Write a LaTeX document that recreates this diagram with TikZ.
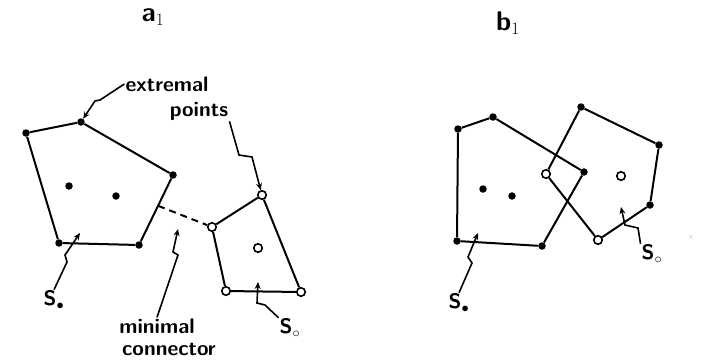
\documentclass[tikz,border=0pt]{standalone}
\usetikzlibrary{arrows.meta,calc}
\tikzset{
	edge/.style={line width=2pt},
	fdot/.style={circle,fill,inner sep=0pt,minimum size=7.5pt},
	odot/.style={circle,draw,fill=white,line width=1.6pt,inner sep=0pt,minimum size=8.5pt},
	hand/.style={font=\sffamily\bfseries\fontsize{21}{23}\selectfont,inner sep=1pt},
	title/.style={font=\sffamily\bfseries\fontsize{27}{29}\selectfont,inner sep=1pt},
	zz/.style={line width=1.6pt,-{Stealth[length=7pt,width=6pt]}},
}
\begin{document}
\begin{tikzpicture}[x=1pt,y=-1pt]
		\useasboundingbox (0,0) rectangle (708,362);
		
		% Titles
		\node[title] (ta) at (153,17) {a$_1$};
		\node[title] (tb) at (508,23) {b$_1$};
		
		% Panel a: filled set
		\node[fdot] (a1) at (26,133) {};
		\node[fdot] (a2) at (81,122) {};
		\node[fdot] (a3) at (173,175) {};
		\node[fdot] (a4) at (139,245) {};
		\node[fdot] (a5) at (59,243) {};
		\node[fdot] (a6) at (69,186) {};
		\node[fdot] (a7) at (116,196) {};
		\draw[edge] (a1) -- (a2) -- (a3) -- (a4) -- (a5) -- (a1);
		
		% Panel a: open set
		\node[odot] (c1) at (262,195) {};
		\node[odot] (c2) at (212,227) {};
		\node[odot] (c3) at (226,291) {};
		\node[odot] (c4) at (301,292) {};
		\node[odot] (c5) at (258,248) {};
		\draw[edge] (c1) -- (c2) -- (c3) -- (c4) -- (c1);
		
		% Minimal connector
		\coordinate (m) at ($(a3)!0.44!(a4)$);
		\draw[edge, dash pattern=on 7pt off 5pt] (m) -- (c2);
		
		% Panel a: labels
		\node[hand] (ext) at (167,84) {extremal};
		\node[hand] (pts) at (199,111) {points};
		\node[hand] (mn) at (157,326) {minimal};
		\node[hand] (cn) at (169,349) {connector};
		\node[hand] (sa) at (54,300) {S$_\bullet$};
		\node[hand] (sb) at (290,328) {S$_\circ$};
		
		% Panel a: arrows
		\draw[zz] (ext.west) -- (100,100) -- (95,101) -- (a2);
		\draw[zz] (pts.south east) -- (239,155) -- (252,157) -- (c1);
		\draw[zz] (mn.north) -- (178,255) -- (173,252) -- (178,229);
		\draw[zz] (sa.north) -- (67,262) -- (65,255) -- (80,233);
		\draw[zz] (sb.north west) -- (265,305) -- (257,303) -- (258,282);
		
		% Panel b: filled set
		\node[fdot] (b1) at (458,129) {};
		\node[fdot] (b2) at (493,117) {};
		\node[fdot] (b3) at (584,172) {};
		\node[fdot] (b4) at (542,246) {};
		\node[fdot] (b5) at (457,241) {};
		\node[fdot] (b6) at (483,189) {};
		\node[fdot] (b7) at (512,196) {};
		\draw[edge] (b1) -- (b2) -- (b3) -- (b4) -- (b5) -- (b1);
		
		% Panel b: second set
		\node[fdot] (d1) at (581,107) {};
		\node[fdot] (d2) at (659,145) {};
		\node[fdot] (d3) at (650,205) {};
		\node[odot] (d4) at (598,240) {};
		\node[odot] (d5) at (546,174) {};
		\node[odot] (d6) at (621,176) {};
		\draw[edge] (d1) -- (d2) -- (d3) -- (d4) -- (d5) -- (d1);
		
		% Panel b: labels and arrows
		\node[hand] (sc) at (459,303) {S$_\bullet$};
		\node[hand] (sd) at (652,254) {S$_\circ$};
		\draw[zz] (sc.north) -- (472,263) -- (468,257) -- (478,233);
		\draw[zz] (sd.north west) -- (638,228) -- (625,225) -- (621,207);
		\node[text=gray!50,font=\small] (xm) at (691,237) {$\times$};
	\end{tikzpicture}
\end{document}
